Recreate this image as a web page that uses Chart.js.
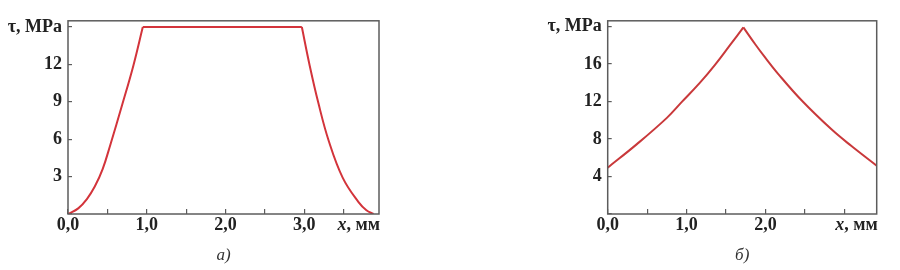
<!DOCTYPE html>
<html>
<head>
<meta charset="utf-8">
<script src="https://cdn.jsdelivr.net/npm/chart.js@4/dist/chart.umd.min.js"></script>
<style>
  html, body { margin: 0; padding: 0; background: #ffffff; }
  #wrap { position: relative; width: 900px; height: 270px; }
  .box { position: absolute; top: 0; width: 450px; height: 270px; }
</style>
</head>
<body>
<div id="wrap">
  <div class="box" style="left:0"><canvas id="c1" width="450" height="270"></canvas></div>
  <div class="box" style="left:450px"><canvas id="c2" width="450" height="270"></canvas></div>
</div>
<script>
// ---- Data ----
// Chart а): trapezoidal shear stress distribution
const aRiseX = [0.00, 0.13, 0.24, 0.34, 0.44, 0.54, 0.69, 0.83, 0.95];
const aRiseY = [0.0, 0.45, 1.2, 2.2, 3.6, 5.6, 8.8, 11.9, 15.0];
const aFlatX = [0.95, 2.97];
const aFlatY = [15.0, 15.0];
const aFallX = [2.97, 3.07, 3.18, 3.31, 3.49, 3.69, 3.79, 3.88];
const aFallY = [15.0, 11.9, 8.9, 5.9, 2.9, 0.95, 0.3, 0.0];

// Chart б): peaked distribution
const bRiseX = [0.00, 0.37, 0.75, 0.94, 1.17, 1.36, 1.55, 1.72];
const bRiseY = [4.94, 7.45, 10.25, 11.95, 14.0, 15.9, 18.0, 19.9];
const bFallX = [1.72, 1.87, 1.99, 2.16, 2.46, 2.84, 3.09, 3.41];
const bFallY = [19.9, 18.1, 16.75, 14.95, 12.1, 9.0, 7.25, 5.15];

// Tick / axis labels
const yAxisLabel = 'τ, MPa';
const xAxisLabel = ['x', ', мм'];
const aTitle = 'а)';
const bTitle = 'б)';
const aXLabelled = [0, 1, 2, 3];
const bXLabelled = [0, 1, 2];

// ---- Helpers ----
const pts = (xs, ys) => xs.map((x, i) => ({ x: x, y: ys[i] }));
const FONT = 'Liberation Serif, Times New Roman, serif';
const TXT = '#222222';
const RED1 = '#d3343b';
const RED2 = '#c9393b';
const AXIS = '#5c5c5c';

function ds(data, color) {
  return {
    data: data,
    borderColor: color,
    borderWidth: 2,
    pointRadius: 0,
    fill: false,
    tension: 0.4,
    showLine: true
  };
}

const framePlugin = {
  id: 'frame',
  afterDraw(chart) {
    const { ctx, chartArea: a } = chart;
    ctx.save();
    ctx.strokeStyle = AXIS;
    ctx.lineWidth = 1.5;
    ctx.strokeRect(a.left, a.top, a.right - a.left, a.bottom - a.top);
    // x-axis name at the right end of the tick-label row
    ctx.fillStyle = TXT;
    ctx.textBaseline = 'middle';
    const y = a.bottom + 11;
    ctx.font = 'bold 18px ' + FONT;
    const w2 = ctx.measureText(xAxisLabel[1]).width;
    ctx.font = 'italic bold 18px ' + FONT;
    const w1 = ctx.measureText(xAxisLabel[0]).width;
    const right = a.right + 1;
    ctx.textAlign = 'left';
    ctx.fillText(xAxisLabel[0], right - w1 - w2, y);
    ctx.font = 'bold 18px ' + FONT;
    ctx.fillText(xAxisLabel[1], right - w2, y);
    ctx.restore();
  }
};

function makeChart(id, datasets, opt) {
  return new Chart(document.getElementById(id), {
    type: 'line',
    data: { datasets: datasets },
    plugins: [framePlugin],
    options: {
      responsive: false,
      animation: false,
      devicePixelRatio: 1,
      layout: { padding: { left: 0, right: opt.padRight, top: 14, bottom: 0 } },
      plugins: { legend: { display: false }, tooltip: { enabled: false } },
      scales: {
        x: {
          type: 'linear',
          min: 0,
          max: opt.xMax,
          afterFit: s => { s.height = 56; },
          border: { display: false },
          grid: { display: true, drawOnChartArea: false, drawTicks: true, tickLength: -5, color: AXIS, lineWidth: 1.2 },
          ticks: {
            stepSize: 0.5,
            includeBounds: false,
            autoSkip: false,
            maxRotation: 0,
            padding: 6,
            color: TXT,
            font: { family: FONT, size: 18, weight: 'bold' },
            callback: v => opt.xLabelled.includes(v) ? v.toFixed(1).replace('.', ',') : ''
          },
          title: {
            display: true,
            text: opt.title,
            color: '#333333',
            font: { family: FONT, size: 17, style: 'italic' },
            padding: { top: 0, bottom: 4 }
          }
        },
        y: {
          type: 'linear',
          min: 0,
          max: opt.yMax,
          afterFit: s => { s.width = opt.yWidth; },
          border: { display: false },
          grid: { display: true, drawOnChartArea: false, drawTicks: true, tickLength: -4, color: AXIS, lineWidth: 1.2 },
          ticks: {
            stepSize: opt.yStep,
            includeBounds: false,
            autoSkip: false,
            padding: 10,
            color: TXT,
            font: { family: FONT, size: 18, weight: 'bold' },
            callback: v => v === 0 ? '' : (v === opt.yTop ? yAxisLabel : String(v))
          }
        }
      }
    }
  });
}

makeChart('c1', [
  ds(pts(aRiseX, aRiseY), RED1),
  ds(pts(aFlatX, aFlatY), RED1),
  ds(pts(aFallX, aFallY), RED1)
], { xMax: 3.95, yMax: 15.5, yStep: 3, yTop: 15, yWidth: 68, padRight: 71, title: aTitle, xLabelled: aXLabelled });

makeChart('c2', [
  ds(pts(bRiseX, bRiseY), RED2),
  ds(pts(bFallX, bFallY), RED2)
], { xMax: 3.41, yMax: 20.6, yStep: 4, yTop: 20, yWidth: 157.7, padRight: 23.3, title: bTitle, xLabelled: bXLabelled });
</script>
</body>
</html>
